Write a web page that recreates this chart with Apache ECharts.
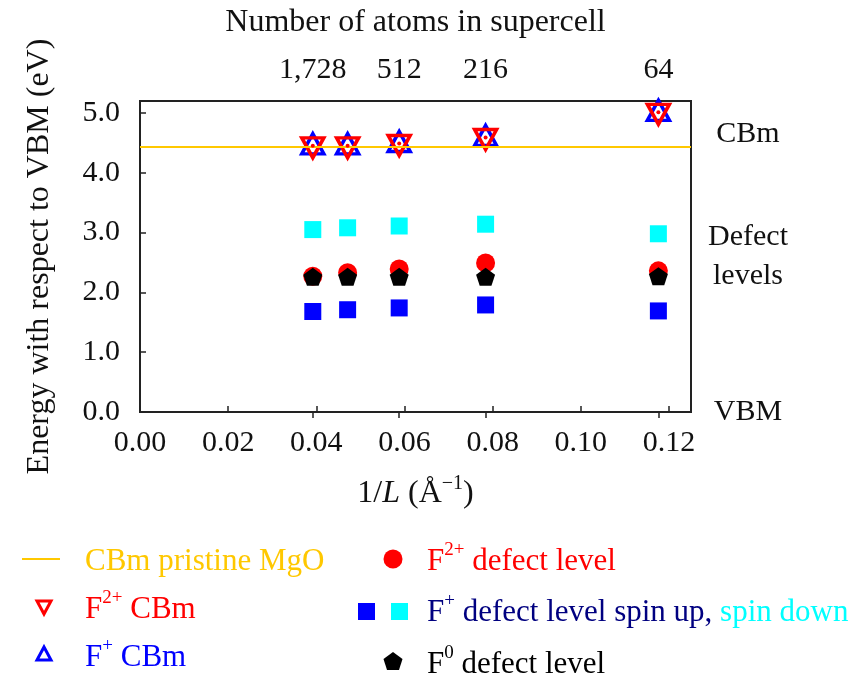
<!DOCTYPE html>
<html>
<head>
<meta charset="utf-8">
<script src="https://cdn.jsdelivr.net/npm/echarts@6/dist/echarts.min.js"></script>
<style>
html,body{margin:0;padding:0;background:#fff;}
#chart{width:856px;height:682px;}
</style>
</head>
<body>
<div id="chart"></div>
<script>
// ---- data ----
const invL = [0.0392, 0.0471, 0.0588, 0.0784, 0.1176];
const cbmF2 = [4.45, 4.45, 4.49, 4.59, 5.01];
const cbmF1 = [4.45, 4.45, 4.49, 4.59, 5.01];
const levelF2 = [2.27, 2.33, 2.39, 2.49, 2.36];
const levelF1up = [1.68, 1.71, 1.74, 1.79, 1.69];
const levelF1down = [3.05, 3.08, 3.11, 3.14, 2.98];
const levelF0 = [2.26, 2.26, 2.26, 2.26, 2.27];
const cbmPristine = 4.43;
const xTicks = [0, 0.02, 0.04, 0.06, 0.08, 0.10, 0.12];
const yTicks = [0, 1, 2, 3, 4, 5];
const topTickPos = [0.0392, 0.0588, 0.0784, 0.1176];
const topTickLabels = ['1,728', '512', '216', '64'];
const rightLabelPos = [0, 2.6, 4.64];
const rightLabels = ['VBM', 'Defect\nlevels', 'CBm'];

const FONT = 'Liberation Serif';
const FS = 30;
const FSN = 32;
const FSL = 31;
const pair = (xs, ys) => xs.map((x, i) => [x, ys[i]]);
const pentagon = 'path://M0,-10 L9.511,-3.09 L5.878,8.09 L-5.878,8.09 L-9.511,-3.09 Z';

const chart = echarts.init(document.getElementById('chart'), null, {renderer: 'canvas'});

const supRich = {
  n: {fontFamily: FONT, fontSize: FSN, color: '#111', verticalAlign: 'bottom', lineHeight: 36},
  i: {fontFamily: FONT, fontSize: FSN, color: '#111', fontStyle: 'italic', verticalAlign: 'bottom', lineHeight: 36},
  s: {fontFamily: FONT, fontSize: 20, color: '#111', verticalAlign: 'top', lineHeight: 36}
};

function richColor(color) {
  return {
    n: {fontFamily: FONT, fontSize: FSL, fill: color, lineHeight: 36, verticalAlign: 'bottom'},
    s: {fontFamily: FONT, fontSize: 19, fill: color, lineHeight: 36, verticalAlign: 'top'},
    c: {fontFamily: FONT, fontSize: FSL, fill: '#00FFFF', lineHeight: 36, verticalAlign: 'bottom'}
  };
}

function legendText(x, y, text, color) {
  return {type: 'text', x: x, y: y,
    style: {text: text, rich: richColor(color), fill: color, font: FSL + 'px ' + FONT, verticalAlign: 'middle', align: 'left'}};
}

const option = {
  backgroundColor: '#fff',
  animation: false,
  grid: {left: 140, right: 165, top: 101, bottom: 270, show: true, borderColor: '#222', borderWidth: 2, backgroundColor: 'transparent'},
  xAxis: [
    {type: 'value', position: 'bottom', min: 0, max: 0.125,
     axisLine: {show: false},
     axisTick: {show: true, inside: true, length: 6, customValues: xTicks, lineStyle: {color: '#222', width: 1.5}},
     axisLabel: {customValues: xTicks, formatter: v => v.toFixed(2), fontFamily: FONT, fontSize: FS, color: '#111', margin: 16},
     splitLine: {show: false},
     name: '{n|1/}{i|L}{n| (Å}{s|−1}{n|)}', nameLocation: 'middle', nameGap: 62,
     nameTextStyle: {rich: supRich, color: '#111'}},
    {type: 'value', position: 'top', min: 0, max: 0.125,
     axisLine: {show: false},
     axisTick: {show: true, inside: true, length: 6, customValues: topTickPos, lineStyle: {color: '#222', width: 1.5}},
     axisLabel: {customValues: topTickPos, formatter: v => { const k = topTickPos.indexOf(v); return k >= 0 ? topTickLabels[k] : ''; }, fontFamily: FONT, fontSize: FS, color: '#111', margin: 16},
     splitLine: {show: false},
     name: 'Number of atoms in supercell', nameLocation: 'middle', nameGap: 62,
     nameTextStyle: {fontFamily: FONT, fontSize: FSN, color: '#111'}}
  ],
  yAxis: [
    {type: 'value', position: 'left', min: 0, max: 5.2,
     axisLine: {show: false},
     axisTick: {show: true, inside: true, length: 6, customValues: yTicks, lineStyle: {color: '#222', width: 1.5}},
     axisLabel: {customValues: yTicks, formatter: v => v.toFixed(1), fontFamily: FONT, fontSize: FS, color: '#111', margin: 20},
     splitLine: {show: false},
     name: 'Energy with respect to VBM (eV)', nameLocation: 'middle', nameGap: 84,
     nameTextStyle: {fontFamily: FONT, fontSize: FSN, color: '#111'}},
    {type: 'value', position: 'right', min: 0, max: 5.2,
     axisLine: {show: false}, axisTick: {show: false},
     axisLabel: {customValues: rightLabelPos, formatter: v => { const k = rightLabelPos.indexOf(v); return k >= 0 ? rightLabels[k] : ''; },
       fontFamily: FONT, fontSize: FS, color: '#111', margin: 57, align: 'center', lineHeight: 39},
     splitLine: {show: false}}
  ],
  series: [
    {type: 'line', data: [], markLine: {silent: true, symbol: ['none', 'none'], label: {show: false},
      lineStyle: {color: '#FFC800', width: 2, type: 'solid'}, data: [{yAxis: cbmPristine}]}},
    {type: 'scatter', name: 'F+ CBm', data: pair(invL, cbmF1), symbol: 'triangle', symbolSize: [22, 20], symbolOffset: [0, -2],
     itemStyle: {color: '#fff', borderColor: '#0000FF', borderWidth: 3.5, opacity: 1}, z: 3},
    {type: 'scatter', name: 'F2+ CBm', data: pair(invL, cbmF2), symbol: 'triangle', symbolRotate: 180, symbolSize: [22, 20], symbolOffset: [0, 2],
     itemStyle: {color: 'rgba(0,0,0,0)', borderColor: '#FF0000', borderWidth: 3.5, opacity: 1}, z: 4},
    {type: 'scatter', data: pair(invL, cbmF2), symbol: 'circle', symbolSize: 4,
     itemStyle: {color: '#FF0000', opacity: 1}, z: 5},
    {type: 'scatter', name: 'F+ spin down', data: pair(invL, levelF1down), symbol: 'rect', symbolSize: 17,
     itemStyle: {color: '#00FFFF', opacity: 1}, z: 3},
    {type: 'scatter', name: 'F+ spin up', data: pair(invL, levelF1up), symbol: 'rect', symbolSize: 17,
     itemStyle: {color: '#0000FF', opacity: 1}, z: 3},
    {type: 'scatter', name: 'F2+ level', data: pair(invL, levelF2), symbol: 'circle', symbolSize: 19,
     itemStyle: {color: '#FF0000', opacity: 1}, z: 3},
    {type: 'scatter', name: 'F0 level', data: pair(invL, levelF0), symbol: pentagon, symbolSize: 19, symbolKeepAspect: true,
     itemStyle: {color: '#000', opacity: 1}, z: 4}
  ],
  graphic: [
    {type: 'line', shape: {x1: 22, y1: 559, x2: 60, y2: 559}, style: {stroke: '#FFC800', lineWidth: 2}},
    legendText(85, 559, '{n|CBm pristine MgO}', '#FFC800'),
    {type: 'polygon', shape: {points: [[37, 601], [51, 601], [44, 614]]}, style: {fill: '#fff', stroke: '#FF0000', lineWidth: 3}},
    legendText(85, 607, '{n|F}{s|2+}{n| CBm}', '#FF0000'),
    {type: 'polygon', shape: {points: [[44, 647], [51, 660], [37, 660]]}, style: {fill: '#fff', stroke: '#0000FF', lineWidth: 3}},
    legendText(85, 655, '{n|F}{s|+}{n| CBm}', '#0000FF'),
    {type: 'circle', shape: {cx: 393, cy: 559, r: 9.5}, style: {fill: '#FF0000'}},
    legendText(427, 559, '{n|F}{s|2+}{n| defect level}', '#FF0000'),
    {type: 'rect', shape: {x: 358, y: 603, width: 17, height: 17}, style: {fill: '#0000FF'}},
    {type: 'rect', shape: {x: 391, y: 603, width: 17, height: 17}, style: {fill: '#00FFFF'}},
    legendText(427, 610, '{n|F}{s|+}{n| defect level spin up, }{c|spin down}', '#000080'),
    {type: 'polygon', shape: {points: [[393, 652], [402.5, 659], [399, 670], [387, 670], [383.5, 659]]}, style: {fill: '#000'}},
    legendText(427, 662, '{n|F}{s|0}{n| defect level}', '#000')
  ]
};
chart.setOption(option);
</script>
</body>
</html>
